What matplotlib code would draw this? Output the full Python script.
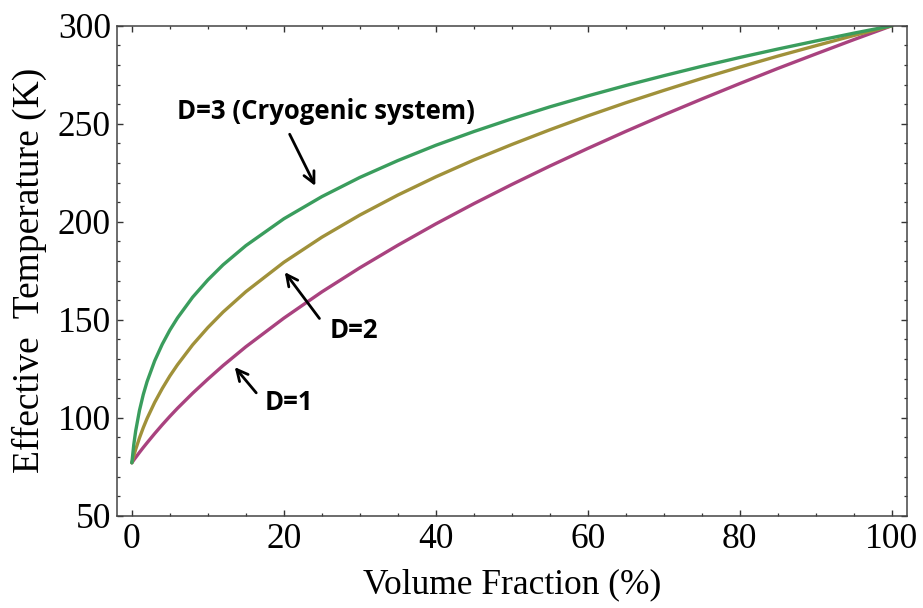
import matplotlib
matplotlib.use("Agg")
import matplotlib.pyplot as plt
from matplotlib.ticker import MultipleLocator

# Volume fraction (%)
volume_fraction = [0, 0.25, 0.5, 1, 1.5, 2, 3, 4, 5, 6, 8, 10, 12, 15, 20, 25,
                   30, 35, 40, 45, 50, 55, 60, 65, 70, 75, 80, 85, 90, 95, 100]
# Effective temperature (K) for each D
temp_d1 = [77.0, 78.4, 79.7, 82.3, 84.8, 87.2, 91.9, 96.4, 100.7, 104.8, 112.5,
           119.7, 126.6, 136.2, 150.8, 164.2, 176.5, 188.0, 198.9, 209.2, 219.0,
           228.4, 237.4, 246.1, 254.5, 262.6, 270.5, 278.2, 285.6, 292.9, 300.0]
temp_d2 = [77.0, 80.6, 83.8, 89.7, 94.9, 99.6, 107.8, 114.9, 121.3, 127.0, 137.2,
           146.0, 153.9, 164.3, 179.3, 192.1, 203.4, 213.6, 222.9, 231.5, 239.4,
           246.9, 254.0, 260.7, 267.0, 273.1, 278.9, 284.5, 289.8, 295.0, 300.0]
temp_d3 = [77.0, 86.2, 93.2, 103.7, 111.8, 118.4, 129.0, 137.5, 144.7, 150.9, 161.5,
           170.3, 178.0, 187.8, 201.5, 212.8, 222.6, 231.2, 239.0, 246.0, 252.5,
           258.6, 264.2, 269.5, 274.5, 279.3, 283.8, 288.1, 292.2, 296.2, 300.0]

labels = ["D=1", "D=2", "D=3 (Cryogenic system)"]
colors = ["#a9427f", "#a0913a", "#3a9d5d"]

fig = plt.figure(figsize=(9.23, 6.08), dpi=100)
ax = fig.add_axes([0.1264, 0.1518, 0.8563, 0.8059])

for y, c in zip([temp_d1, temp_d2, temp_d3], colors):
    ax.plot(volume_fraction, y, color=c, lw=2.4, solid_capstyle="round",
            solid_joinstyle="round")

ax.set_xlim(-2, 102)
ax.set_ylim(50, 300)
ax.xaxis.set_major_locator(MultipleLocator(20))
ax.xaxis.set_minor_locator(MultipleLocator(5))
ax.yaxis.set_major_locator(MultipleLocator(50))
ax.yaxis.set_minor_locator(MultipleLocator(10))

serif = "Liberation Serif"
ax.tick_params(which="both", direction="in", top=True, right=True, colors="#333333",
               labelcolor="black")
ax.tick_params(which="major", length=4.5, width=1.0)
ax.tick_params(which="minor", length=2.5, width=0.9)
ax.tick_params(axis="x", pad=5)
ax.tick_params(axis="y", pad=4)
for lab in ax.get_xticklabels() + ax.get_yticklabels():
    lab.set_fontfamily(serif)
    lab.set_fontsize(25.5)
for s in ax.spines.values():
    s.set_color("#444444")
    s.set_linewidth(1.1)

ax.set_xlabel("Volume Fraction (%)", family=serif, fontsize=25.5, labelpad=9)
ax.set_ylabel("Effective  Temperature (K)", family=serif, fontsize=27, labelpad=8)

ann_font = dict(family=["Open Sans", "DejaVu Sans"], fontweight="bold", fontsize=18.5)
arrow = dict(arrowstyle="->", color="black", lw=2.0, mutation_scale=20)

ax.annotate(labels[2], xy=(24.3, 217), xytext=(25.5, 252.5), ha="center",
            va="baseline", **ann_font)
ax.annotate("", xy=(24.3, 217), xytext=(20.6, 245.9), arrowprops=arrow)

ax.annotate(labels[1], xy=(19.9, 175.4), xytext=(29.2, 140.7), ha="center",
            va="baseline", **ann_font)
ax.annotate("", xy=(19.9, 175.4), xytext=(24.9, 149.5), arrowprops=arrow)

ax.annotate(labels[0], xy=(13.3, 126.9), xytext=(20.7, 103.9), ha="center",
            va="baseline", **ann_font)
ax.annotate("", xy=(13.3, 126.9), xytext=(16.6, 111.6), arrowprops=arrow)

fig.savefig("out.png", dpi=100)
